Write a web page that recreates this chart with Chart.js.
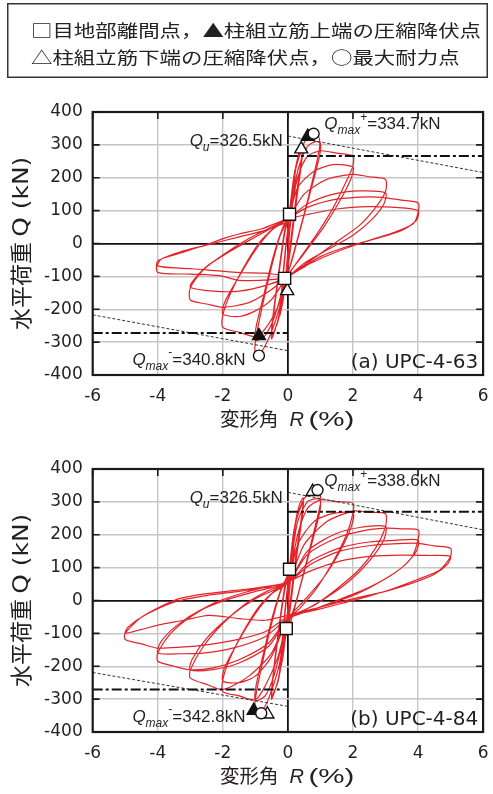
<!DOCTYPE html>
<html>
<head>
<meta charset="utf-8">
<script src="https://cdn.jsdelivr.net/npm/chart.js@4.4.1/dist/chart.umd.min.js"></script>
<style>
  body { margin: 0; background: #fff; width: 493px; height: 794px; position: relative; overflow: hidden; }
  canvas { position: absolute; left: 0; }
</style>
</head>
<body>
<canvas id="legend" width="493" height="82" style="top:0px"></canvas>
<canvas id="chartA" width="493" height="340" style="top:90px"></canvas>
<canvas id="chartB" width="493" height="340" style="top:447px"></canvas>
<script>
// ---- legend text ----
const legendLines = ['□目地部離間点，▲柱組立筋上端の圧縮降伏点', '△柱組立筋下端の圧縮降伏点，○最大耐力点'];

// ---- axis ticks ----
const xTicks = [-6, -4, -2, 0, 2, 4, 6];
const yTicks = [-400, -300, -200, -100, 0, 100, 200, 300, 400];

// ---- (a) UPC-4-63 : hysteresis path, [R (%), Q (kN)] in loading order ----
const a63_025 = [[0,0],[0.05,90],[0.15,180],[0.22,225],[0.17,160],[0.05,40],[-0.05,-80],[-0.15,-170],[-0.25,-220],[-0.2,-160],[-0.08,-30],
  [0.03,80],[0.15,180],[0.22,220],[0.17,150],[0.05,30],[-0.05,-90],[-0.15,-175],[-0.25,-215],[-0.2,-150],[-0.08,-20]];
const a63_05 = [[0.05,85],[0.2,210],[0.35,280],[0.45,300],[0.42,260],[0.25,140],[0.05,-20],[-0.1,-120],[-0.3,-230],[-0.5,-290],[-0.47,-240],[-0.3,-110],[-0.1,30],
  [0.05,95],[0.25,230],[0.45,290],[0.42,245],[0.25,120],[0.05,-40],[-0.1,-130],[-0.3,-235],[-0.5,-280],[-0.47,-230],[-0.3,-100],[-0.1,40]];
const a63_1 = [[0.05,95],[0.25,230],[0.45,295],[0.6,322],[0.8,334],[0.95,325],[0.97,290],[0.8,210],[0.5,90],[0.2,-20],[-0.05,-110],[-0.3,-210],[-0.55,-280],[-0.75,-320],[-0.9,-340],[-1.0,-335],[-1.0,-300],[-0.85,-220],[-0.55,-90],[-0.25,20],
  [0.05,90],[0.3,220],[0.6,295],[0.85,310],[1.0,305],[0.97,265],[0.7,160],[0.4,50],[0.1,-60],[-0.1,-115],[-0.4,-220],[-0.7,-280],[-1.0,-295],[-0.98,-255],[-0.75,-160],[-0.45,-40],[-0.15,50]];
const a63_2 = [[0.05,85],[0.3,200],[0.6,265],[1.0,282],[1.5,275],[2.0,266],[2.0,236],[1.8,190],[1.4,110],[0.9,30],[0.4,-40],[0.0,-100],
  [-0.3,-190],[-0.7,-260],[-1.0,-283],[-1.5,-270],[-2.0,-255],[-2.0,-218],[-1.8,-160],[-1.4,-80],[-0.9,0],[-0.4,50],[0.0,80],
  [0.3,170],[0.8,220],[1.4,240],[2.0,232],[1.95,200],[1.6,130],[1.1,50],[0.5,-30],[0.0,-95],
  [-0.5,-170],[-1.0,-205],[-1.5,-222],[-2.0,-215],[-1.95,-180],[-1.5,-100],[-1.0,-20],[-0.5,40],[0.0,75]];
const a63_3 = [[0.5,150],[1.2,195],[2.0,210],[2.5,203],[3.0,195],[3.0,158],[2.7,110],[2.2,55],[1.5,5],[0.8,-45],[0.0,-100],
  [-0.5,-140],[-1.2,-180],[-2.0,-194],[-2.5,-184],[-3.0,-172],[-3.0,-135],[-2.6,-80],[-2.0,-35],[-1.2,15],[-0.5,50],[0.0,75],
  [0.6,120],[1.4,150],[2.2,160],[3.0,154],[2.95,120],[2.6,75],[2.0,25],[1.2,-20],[0.5,-60],[0.0,-100],
  [-0.6,-125],[-1.5,-145],[-2.3,-145],[-3.0,-134],[-2.95,-118],[-2.5,-70],[-1.8,-25],[-1.0,20],[0.0,75]];
const a63_4 = [[0.6,110],[1.5,135],[2.5,142],[3.0,139],[3.5,132],[4.0,124],[4.0,93],[3.85,60],[3.3,35],[2.5,10],[1.5,-25],[0.7,-60],[0.0,-100],
  [-0.5,-110],[-1.5,-112],[-2.1,-98],[-3.0,-93],[-4.0,-88],[-4.0,-53],[-3.5,-35],[-2.7,-10],[-1.9,18],[-1.5,29],[-0.8,45],[0.0,75],
  [0.7,90],[1.5,105],[2.5,112],[3.3,110],[4.0,100],[3.95,70],[3.5,40],[2.7,15],[1.8,-10],[1.0,-40],[0.0,-95],
  [-0.7,-90],[-1.6,-88],[-2.5,-80],[-3.3,-75],[-4.0,-68],[-3.9,-48],[-3.3,-25],[-2.5,-5],[-1.5,20],[-0.7,40],[0.0,65]];

// ---- (b) UPC-4-84 ----
const b84_025 = [[0,0],[0.05,95],[0.15,190],[0.22,230],[0.17,170],[0.05,40],[-0.05,-80],[-0.15,-170],[-0.25,-215],[-0.2,-160],[-0.08,-30],
  [0.03,80],[0.15,185],[0.22,225],[0.17,160],[0.05,30],[-0.05,-85],[-0.15,-170],[-0.25,-210],[-0.2,-150],[-0.08,-20]];
const b84_05 = [[0.05,95],[0.2,220],[0.35,290],[0.47,312],[0.44,270],[0.25,140],[0.05,-20],[-0.1,-120],[-0.3,-240],[-0.5,-300],[-0.47,-250],[-0.3,-110],[-0.1,30],
  [0.05,95],[0.25,240],[0.47,300],[0.44,255],[0.25,120],[0.05,-40],[-0.1,-130],[-0.3,-245],[-0.5,-290],[-0.47,-240],[-0.3,-100],[-0.1,40]];
const b84_1 = [[0.05,95],[0.25,240],[0.5,310],[0.75,331],[0.9,338],[1.0,320],[1.0,295],[0.8,210],[0.5,90],[0.2,-20],[-0.05,-90],[-0.3,-210],[-0.6,-300],[-0.8,-335],[-1.0,-335],[-1.0,-300],[-0.85,-220],[-0.55,-90],[-0.25,20],
  [0.05,95],[0.3,240],[0.6,300],[0.9,310],[1.0,305],[0.97,265],[0.7,160],[0.4,50],[0.1,-60],[-0.1,-100],[-0.4,-220],[-0.7,-290],[-1.0,-305],[-0.98,-260],[-0.75,-160],[-0.45,-40],[-0.15,50]];
const b84_2 = [[0.05,80],[0.3,200],[0.6,280],[1.0,306],[1.5,301],[2.0,296],[2.0,266],[1.8,200],[1.4,120],[0.9,40],[0.4,-20],[0.0,-60],
  [-0.3,-170],[-0.7,-260],[-1.0,-302],[-1.5,-290],[-2.0,-277],[-2.0,-241],[-1.8,-180],[-1.4,-100],[-0.9,-20],[-0.4,30],[0.0,55],
  [0.3,170],[0.8,240],[1.4,265],[2.0,266],[1.95,225],[1.6,150],[1.1,70],[0.5,0],[0.0,-55],
  [-0.5,-170],[-1.0,-230],[-1.5,-250],[-2.0,-245],[-1.95,-205],[-1.5,-120],[-1.0,-40],[-0.5,20],[0.0,55]];
const b84_3 = [[0.5,170],[1.2,240],[2.0,272],[2.5,268],[3.0,264],[3.0,225],[2.7,160],[2.2,95],[1.5,35],[0.8,-15],[0.0,-55],
  [-0.5,-160],[-1.2,-230],[-2.0,-271],[-2.5,-255],[-3.0,-236],[-3.0,-211],[-2.6,-140],[-2.0,-70],[-1.3,-10],[-0.6,30],[0.0,55],
  [0.6,150],[1.4,200],[2.2,222],[3.0,225],[2.95,185],[2.5,120],[1.9,60],[1.2,10],[0.5,-30],[0.0,-55],
  [-0.6,-140],[-1.5,-190],[-2.3,-210],[-3.0,-211],[-2.95,-180],[-2.5,-115],[-1.8,-50],[-1.0,5],[0.0,55]];
const b84_4 = [[0.6,140],[1.5,190],[2.3,212],[3.0,220],[3.5,218],[4.0,215],[4.0,184],[3.8,130],[3.3,85],[2.5,40],[1.5,0],[0.7,-30],[0.0,-55],
  [-0.6,-130],[-1.5,-180],[-2.3,-205],[-3.0,-211],[-3.5,-200],[-4.0,-185],[-4.0,-160],[-3.6,-100],[-3.0,-50],[-2.2,-5],[-1.3,25],[-0.5,45],[0.0,55],
  [0.7,120],[1.6,160],[2.5,178],[3.3,183],[4.0,184],[3.95,150],[3.5,100],[2.8,55],[2.0,15],[1.0,-20],[0.0,-55],
  [-0.7,-110],[-1.7,-145],[-2.6,-160],[-3.3,-162],[-4.0,-160],[-3.9,-125],[-3.4,-75],[-2.7,-30],[-1.8,5],[-0.9,30],[0.0,55]];
const b84_5 = [[0.7,110],[1.6,150],[2.6,168],[3.4,173],[4.0,174],[4.5,166],[5.0,159],[5.0,134],[4.67,93],[3.96,63],[3.2,35],[2.44,12],[1.6,-10],[0.91,-28],[0.0,-50],
  [-0.7,-95],[-1.6,-120],[-2.5,-135],[-3.3,-142],[-4.0,-145],[-4.5,-132],[-5.0,-119],[-5.0,-99],[-4.47,-49],[-3.45,2],[-2.7,18],[-1.93,27],[-1.0,38],[-0.1,53],
  [0.7,90],[1.6,120],[2.6,135],[3.5,138],[4.3,137],[5.0,134],[4.9,110],[4.5,80],[3.8,52],[3.0,28],[2.0,5],[1.0,-20],[0.0,-45],
  [-0.7,-60],[-1.5,-55],[-2.44,-45],[-3.2,-60],[-3.96,-74],[-4.5,-88],[-5.0,-99],[-4.9,-80],[-4.4,-45],[-3.5,-5],[-2.5,15],[-1.5,28],[-0.5,42]];

// ---- marked points [R, Q] ----
const a63_joint = [[0.05,89],[-0.1,-106]];          // □
const a63_topYield = [[0.61,325],[-0.89,-281]];     // ▲
const a63_botYield = [[0.41,287],[-0.02,-144]];     // △
const a63_qmax = [[0.79,334],[-0.89,-341]];         // ○
const b84_joint = [[0.05,95],[-0.05,-85]];
const b84_topYield = [[-1.05,-335]];
const b84_botYield = [[0.76,331],[-0.63,-346]];
const b84_qmax = [[0.91,336],[-0.82,-343]];

// ---- reference lines ----
const a63_dashPos = [[0,266],[6,266]];
const a63_dashNeg = [[-6,-272],[0,-272]];
const a63_slopePos = [[0,327],[6,216]];
const a63_slopeNeg = [[-6,-217],[0,-326]];
const b84_dashPos = [[0,270],[6,270]];
const b84_dashNeg = [[-6,-271],[0,-271]];
const b84_slopePos = [[0,329],[6,215]];
const b84_slopeNeg = [[-6,-219],[0,-322]];

const LS = '"Liberation Sans", Arial, sans-serif';
const DJ = '"DejaVu Sans", sans-serif';
const CJK = '"Noto Sans CJK JP", sans-serif';

const pts = arr => arr.map(p => ({ x: p[0], y: p[1] }));

function rich(ctx, x, y, parts) {
    parts.forEach(p => {
        ctx.font = p[1];
        ctx.fillText(p[0], x, y + (p[2] || 0));
        x += ctx.measureText(p[0]).width;
    });
}

// text stretched horizontally to a given width
function wide(ctx, text, font, x, y, width) {
    ctx.save();
    ctx.font = font;
    const w = ctx.measureText(text).width;
    ctx.translate(x, y);
    ctx.scale(width / w, 1);
    ctx.fillText(text, 0, 0);
    ctx.restore();
}

// ---- legend box ----
(function drawLegend() {
    const ctx = document.getElementById('legend').getContext('2d');
    ctx.strokeStyle = '#333';
    ctx.lineWidth = 1.5;
    ctx.strokeRect(7.75, 3.75, 479.5, 73.5);
    ctx.fillStyle = '#222';
    ctx.textBaseline = 'middle';
    ctx.font = '17.5px ' + CJK;
    const sx = 450 / ctx.measureText(legendLines[0]).width;
    [30.8, 57.5].forEach((cy, i) => {
        ctx.save();
        ctx.translate(31, cy);
        ctx.scale(sx, 1);
        ctx.fillText(legendLines[i], 0, 0);
        ctx.restore();
    });
})();

function makeChart(id, loops, marks, refLines, caption, qmaxPos, qmaxNeg) {
    const decor = {
        id: 'decor',
        afterDatasetsDraw(chart) {
            const { ctx, chartArea: a, scales: { x, y } } = chart;
            ctx.save();
            // frame
            ctx.strokeStyle = '#1a1a1a';
            ctx.lineWidth = 2.2;
            ctx.strokeRect(a.left, a.top, a.right - a.left, a.bottom - a.top);
            // inner ticks (left, top, right)
            ctx.lineWidth = 1.6;
            ctx.beginPath();
            xTicks.forEach(v => { const px = x.getPixelForValue(v); ctx.moveTo(px, a.top); ctx.lineTo(px, a.top + 7); });
            yTicks.forEach(v => {
                const py = y.getPixelForValue(v);
                ctx.moveTo(a.left, py); ctx.lineTo(a.left + 7, py);
                ctx.moveTo(a.right, py); ctx.lineTo(a.right - 7, py);
            });
            ctx.stroke();

            // annotations
            ctx.fillStyle = '#231f20';
            ctx.textBaseline = 'alphabetic';
            ctx.textAlign = 'left';
            rich(ctx, x.getPixelForValue(-3.02), y.getPixelForValue(298), [
                ['Q', 'italic 17px ' + LS], ['u', 'italic 12px ' + LS, 5], ['=326.5kN', '17px ' + LS]]);
            rich(ctx, x.getPixelForValue(1.12), y.getPixelForValue(349), [
                ['Q', 'italic 17px ' + LS], ['max', 'italic 12px ' + LS, 5], ['+', '12px ' + LS, -8], ['=' + qmaxPos + 'kN', '17px ' + LS]]);
            rich(ctx, x.getPixelForValue(-4.78), y.getPixelForValue(-370), [
                ['Q', 'italic 17px ' + LS], ['max', 'italic 12px ' + LS, 5], ['-', '12px ' + LS, -9], ['=' + qmaxNeg + 'kN', '17px ' + LS]]);
            ctx.font = '20px ' + DJ;
            ctx.textAlign = 'right';
            ctx.fillText(caption, x.getPixelForValue(5.85), y.getPixelForValue(-378));

            // x title: 変形角 R (%)
            ctx.textAlign = 'left';
            ctx.textBaseline = 'middle';
            const cy = a.bottom + 44;
            const cx = x.getPixelForValue(0);
            ctx.font = '19.5px ' + CJK;
            ctx.fillText('変形角', cx - 68, cy);
            ctx.font = 'italic 20px ' + LS;
            ctx.fillText('R', cx + 1.5, cy + 1);
            wide(ctx, '(%)', '21px ' + LS, cx + 20.5, cy + 1, 46);

            // y title: 水平荷重 Q (kN)
            ctx.translate(21, (a.top + a.bottom) / 2);
            ctx.rotate(-Math.PI / 2);
            ctx.font = '22px ' + CJK;
            ctx.fillText('水平荷重', -86.5, 0);
            wide(ctx, 'Q (kN)', '22px ' + DJ, 6.8, 1, 80);
            ctx.restore();
        }
    };

    const marker = (data, style, fill, r) => ({
        data: pts(data), showLine: false, pointStyle: style, pointRadius: r,
        pointBackgroundColor: fill, pointBorderColor: '#111', pointBorderWidth: 1.4, order: 0
    });
    const refLine = (data, dash, width, color) => ({
        data: pts(data), showLine: true, pointRadius: 0, borderColor: color,
        borderWidth: width, borderDash: dash, order: 1
    });

    const datasets = [
        marker(marks.joint, 'rect', '#fff', 8.5),
        marker(marks.qmax, 'circle', '#fff', 5.5),
        marker(marks.botYield, 'triangle', '#fff', 7.5),
        marker(marks.topYield, 'triangle', '#111', 7.5),
        refLine(refLines.dashPos, [10, 3, 3, 3], 2, '#111'),
        refLine(refLines.dashNeg, [10, 3, 3, 3], 2, '#111'),
        refLine(refLines.slopePos, [3, 2], 1, '#333'),
        refLine(refLines.slopeNeg, [3, 2], 1, '#333'),
        {
            data: pts(loops), showLine: true, pointRadius: 0, tension: 0.25,
            borderColor: '#e3242b', borderWidth: 1.2, borderJoinStyle: 'round', order: 2
        }
    ];

    const gridColor = ctx => ctx.tick && ctx.tick.value === 0 ? '#111' : '#c6c6c6';
    const gridWidth = ctx => ctx.tick && ctx.tick.value === 0 ? 1.8 : 1.4;

    return new Chart(document.getElementById(id), {
        type: 'scatter',
        data: { datasets },
        options: {
            responsive: false,
            animation: false,
            devicePixelRatio: 1,
            layout: { padding: { left: 0, right: 6.3, top: 22, bottom: 0 } },
            plugins: { legend: { display: false }, tooltip: { enabled: false } },
            scales: {
                x: {
                    type: 'linear', min: -6, max: 6,
                    afterBuildTicks: s => { s.ticks = xTicks.map(v => ({ value: v })); },
                    ticks: { color: '#231f20', font: { family: 'DejaVu Sans', size: 17 }, padding: 11, maxRotation: 0 },
                    grid: { color: gridColor, lineWidth: gridWidth, drawTicks: false },
                    border: { display: false },
                    afterFit: s => { s.height = 55; s.paddingLeft = 0; s.paddingRight = 0; }
                },
                y: {
                    type: 'linear', min: -400, max: 400,
                    afterBuildTicks: s => { s.ticks = yTicks.map(v => ({ value: v })); },
                    ticks: { color: '#231f20', font: { family: 'DejaVu Sans', size: 17 }, padding: 10 },
                    grid: { color: gridColor, lineWidth: gridWidth, drawTicks: false },
                    border: { display: false },
                    afterFit: s => { s.width = 92.7; s.paddingTop = 0; s.paddingBottom = 0; }
                }
            }
        },
        plugins: [decor]
    });
}

makeChart('chartA',
    [a63_025, a63_05, a63_1, a63_2, a63_3, a63_4].flat(),
    { joint: a63_joint, topYield: a63_topYield, botYield: a63_botYield, qmax: a63_qmax },
    { dashPos: a63_dashPos, dashNeg: a63_dashNeg, slopePos: a63_slopePos, slopeNeg: a63_slopeNeg },
    '(a) UPC-4-63', '334.7', '340.8');

makeChart('chartB',
    [b84_025, b84_05, b84_1, b84_2, b84_3, b84_4, b84_5].flat(),
    { joint: b84_joint, topYield: b84_topYield, botYield: b84_botYield, qmax: b84_qmax },
    { dashPos: b84_dashPos, dashNeg: b84_dashNeg, slopePos: b84_slopePos, slopeNeg: b84_slopeNeg },
    '(b) UPC-4-84', '338.6', '342.8');
</script>
</body>
</html>
